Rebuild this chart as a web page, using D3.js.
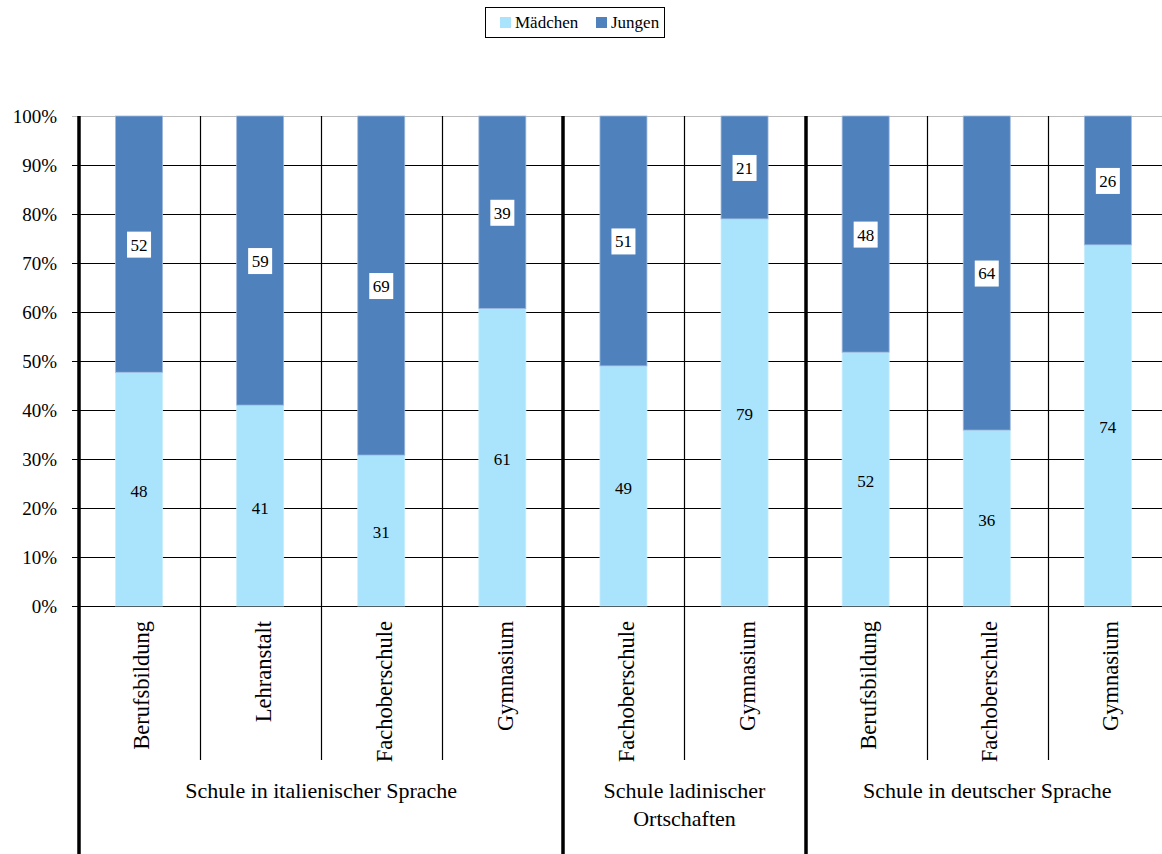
<!DOCTYPE html>
<html><head><meta charset="utf-8">
<script src="https://cdn.jsdelivr.net/npm/d3@7"></script>
<style>body{margin:0;background:#fff}svg{display:block}text{font-family:"Liberation Serif","DejaVu Serif",serif;fill:#000}</style>
</head><body>
<svg id="c" width="1162" height="854"></svg>
<script>
const categories = ["Berufsbildung","Lehranstalt","Fachoberschule","Gymnasium","Fachoberschule","Gymnasium","Berufsbildung","Fachoberschule","Gymnasium"];
const groups = [
  {name:["Schule in italienischer Sprache"], start:0, count:4},
  {name:["Schule ladinischer","Ortschaften"], start:4, count:2},
  {name:["Schule in deutscher Sprache"], start:6, count:3}
];
const maedchen = [47.7, 41.0, 30.8, 60.7, 49.0, 79.0, 51.8, 35.9, 73.7];
const jungen   = [52.3, 59.0, 69.2, 39.3, 51.0, 21.0, 48.2, 64.1, 26.3];
const seriesNames = ["Mädchen","Jungen"];
const colors = ["#AAE3FC","#4F81BD"];
const yTicks = [0,10,20,30,40,50,60,70,80,90,100];

(function(){
const svg = d3.select("#c");
const pLeft = 79, pTop = 116, pBottom = 606, step = 121.1;
const x = d3.scaleBand().domain(d3.range(categories.length)).range([pLeft, pLeft + step*categories.length]).paddingInner(0).paddingOuter(0);
const y = d3.scaleLinear().domain([0,100]).range([pBottom, pTop]);
const bw = 47;

// gridlines
svg.append("g").selectAll("line").data(yTicks).join("line")
  .attr("x1", pLeft-7).attr("x2", 1162)
  .attr("y1", d=>y(d)+0.5).attr("y2", d=>y(d)+0.5)
  .attr("stroke", d=> d===100 ? "#bbb" : "#000").attr("stroke-width",1.2);
// inner vertical separators
const groupBounds = new Set(groups.map(g=>g.start));
const seps = d3.range(1, categories.length).filter(i=>!groupBounds.has(i));
svg.append("g").selectAll("line").data(seps).join("line")
  .attr("x1", i=>Math.round(x(i))+0.5).attr("x2", i=>Math.round(x(i))+0.5)
  .attr("y1", pTop).attr("y2", 760).attr("stroke","#000").attr("stroke-width",1.2);

// stacked data
const data = categories.map((c,i)=>({i, m:maedchen[i], j:jungen[i]}));
const stack = d3.stack().keys(["m","j"])(data);
const gBars = svg.append("g");
stack.forEach((s,k)=>{
  gBars.selectAll(null).data(s).join("rect")
    .attr("x", d=>x(d.data.i)+x.bandwidth()/2-bw/2-0.5)
    .attr("width", bw)
    .attr("y", d=>y(d[1]))
    .attr("height", d=>y(d[0])-y(d[1]))
    .attr("fill", colors[k])
    .attr("stroke", k===0 ? "#C8EEFD" : "#9DB9DD").attr("stroke-width",0.8);
});
// labels
const fmt = d3.format(".0f");
stack.forEach((s,k)=>{
  s.forEach(d=>{
    const cx = x(d.data.i)+x.bandwidth()/2-0.5;
    const cy = (y(d[0])+y(d[1]))/2 + (k===0 ? 2 : 0.5);
    const g = svg.append("g");
    if(k===1){
      g.append("rect").attr("x", cx-12).attr("y", cy-13).attr("width",24).attr("height",26).attr("fill","#fff");
    }
    g.append("text").attr("x",cx).attr("y",cy).attr("dy","0.35em").attr("text-anchor","middle")
      .style("font-size","17px").text(fmt(d[1]-d[0]));
  });
});

// group separators (thick) and y axis
const thick = [0].concat(groups.slice(1).map(g=>g.start));
svg.append("g").selectAll("line").data(thick).join("line")
  .attr("x1", i=>Math.round(x(i))).attr("x2", i=>Math.round(x(i)))
  .attr("y1", pTop).attr("y2", 854).attr("stroke","#000").attr("stroke-width",3.5);

// y tick labels
svg.append("g").selectAll("text").data(yTicks).join("text")
  .attr("x", 57).attr("y", d=>y(d)).attr("dy","0.35em").attr("text-anchor","end")
  .style("font-size","19px").text(d=>d+"%");

// category labels
svg.append("g").selectAll("text").data(categories).join("text")
  .attr("transform", (d,i)=>`translate(${x(i)+x.bandwidth()/2+2},621) rotate(-90)`)
  .attr("text-anchor","end").attr("dy","0.35em")
  .style("font-size","22.5px").text(d=>d);

// group labels
groups.forEach(g=>{
  const cx = (x(g.start) + x(g.start+g.count-1) + x.bandwidth())/2;
  g.name.forEach((line,li)=>{
    svg.append("text").attr("x",cx).attr("y",798+li*28).attr("text-anchor","middle")
      .style("font-size","22px").text(line);
  });
});

// legend
const lg = svg.append("g");
lg.append("rect").attr("x",485.5).attr("y",7.5).attr("width",179).attr("height",30).attr("fill","#fff").attr("stroke","#000").attr("stroke-width",1);
const legX = [500, 596];
seriesNames.forEach((n,k)=>{
  lg.append("rect").attr("x",legX[k]).attr("y",17).attr("width",11).attr("height",11).attr("fill",colors[k]);
  lg.append("text").attr("x",legX[k]+15).attr("y",22.5).attr("dy","0.35em").style("font-size","17px").text(n);
});
})();
</script>
</body></html>
